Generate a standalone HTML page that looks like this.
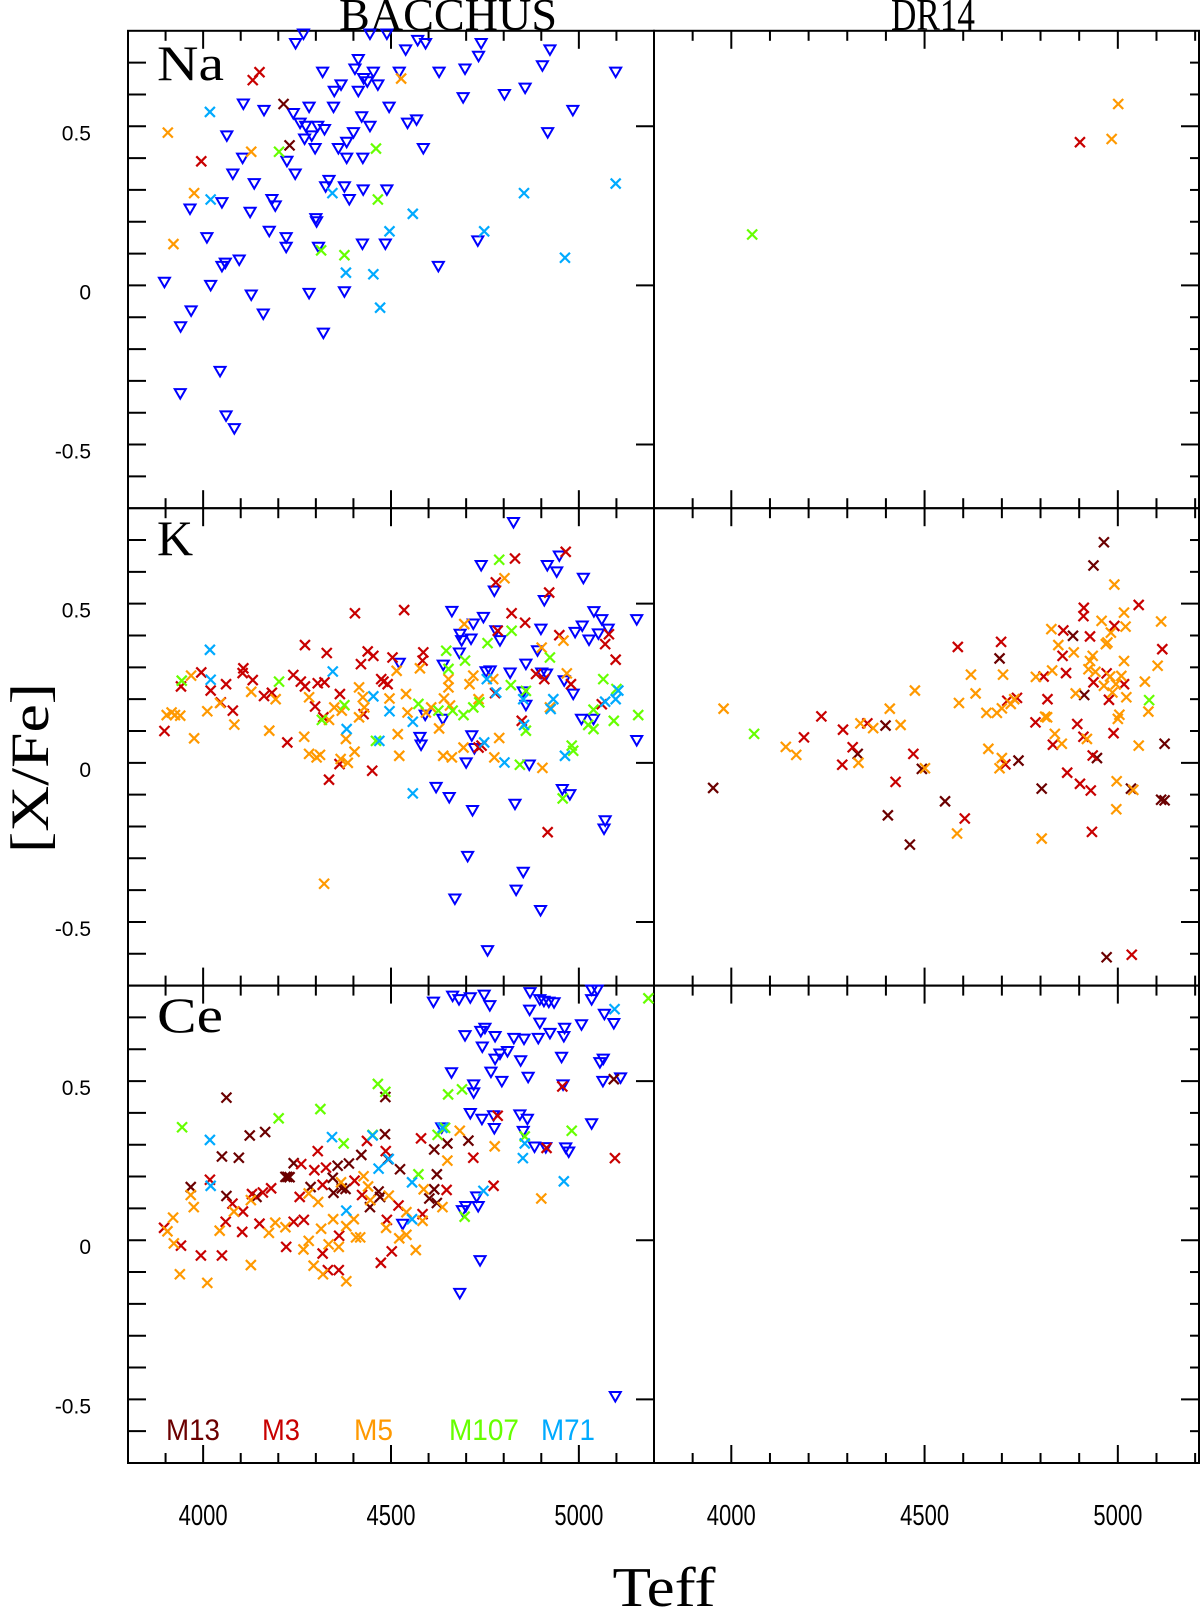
<!DOCTYPE html>
<html><head><meta charset="utf-8"><style>
html,body{margin:0;padding:0;background:#fff;}
svg{display:block;}
</style></head><body>
<svg id="chart" width="1200" height="1610" viewBox="0 0 1200 1610" xmlns="http://www.w3.org/2000/svg">
<text x="448" y="30" font-family="Liberation Serif, serif" font-size="46" text-anchor="middle" textLength="218" lengthAdjust="spacingAndGlyphs">BACCHUS</text>
<text x="933" y="30" font-family="Liberation Serif, serif" font-size="46" text-anchor="middle" textLength="84" lengthAdjust="spacingAndGlyphs">DR14</text>
<text x="0" y="0" transform="translate(48,768) rotate(-90)" font-family="Liberation Serif, serif" font-size="54" text-anchor="middle" textLength="170" lengthAdjust="spacingAndGlyphs">[X/Fe]</text>
<text x="664" y="1606" font-family="Liberation Serif, serif" font-size="56" text-anchor="middle" textLength="103" lengthAdjust="spacingAndGlyphs">Teff</text>
<text x="157" y="80" font-family="Liberation Serif, serif" font-size="50" textLength="67" lengthAdjust="spacingAndGlyphs">Na</text>
<text x="157" y="555" font-family="Liberation Serif, serif" font-size="50">K</text>
<text x="157" y="1032" font-family="Liberation Serif, serif" font-size="50" textLength="66" lengthAdjust="spacingAndGlyphs">Ce</text>
<g font-family="Liberation Sans, sans-serif" font-size="30">
<text x="166" y="1440" fill="#6b0000" textLength="54" lengthAdjust="spacingAndGlyphs">M13</text>
<text x="262" y="1440" fill="#c80000" textLength="38" lengthAdjust="spacingAndGlyphs">M3</text>
<text x="354" y="1440" fill="#ff9900" textLength="39" lengthAdjust="spacingAndGlyphs">M5</text>
<text x="449" y="1440" fill="#66ff00" textLength="70" lengthAdjust="spacingAndGlyphs">M107</text>
<text x="541" y="1440" fill="#00aaff" textLength="54" lengthAdjust="spacingAndGlyphs">M71</text>
</g>
</svg>
<script>
// ---- data (Teff, [X/Fe]) ----
const na_lim = [[4267,0.79],[4246,0.76],[4444,0.79],[4489,0.79],[4539,0.74],[4571,0.77],[4592,0.76],[4740,0.76],[4733,0.72],[4923,0.74],[4413,0.71],[4318,0.67],[4404,0.68],[4427,0.65],[4453,0.67],[4437,0.64],[4465,0.63],[4367,0.63],[4349,0.61],[4413,0.61],[4522,0.67],[4628,0.67],[4697,0.68],[4903,0.69],[5098,0.67],[4692,0.59],[4802,0.60],[4857,0.62],[4984,0.55],[4107,0.57],[4162,0.55],[4240,0.54],[4282,0.56],[4347,0.56],[4495,0.56],[4422,0.53],[4258,0.51],[4273,0.50],[4305,0.50],[4323,0.49],[4444,0.50],[4544,0.51],[4568,0.52],[4063,0.47],[4289,0.47],[4400,0.48],[4270,0.46],[4298,0.43],[4382,0.45],[4360,0.43],[4586,0.43],[4917,0.48],[4105,0.40],[4223,0.39],[4382,0.40],[4425,0.40],[4079,0.35],[4245,0.35],[4136,0.32],[4335,0.33],[4326,0.31],[4376,0.31],[4426,0.30],[4489,0.30],[4389,0.27],[4050,0.26],[3965,0.24],[4183,0.27],[4192,0.25],[4125,0.23],[4300,0.21],[4302,0.20],[4176,0.17],[4221,0.15],[4221,0.12],[4307,0.12],[4424,0.13],[4485,0.13],[4731,0.14],[4010,0.15],[4096,0.08],[4059,0.07],[4050,0.06],[4626,0.06],[3897,0.01],[4020,0.00],[4128,-0.03],[4282,-0.025],[4376,-0.02],[3968,-0.08],[4160,-0.09],[3940,-0.13],[4320,-0.15],[4045,-0.27],[3939,-0.34],[4061,-0.41],[4083,-0.45]];
const na_m13 = [[4214,0.57],[4230,0.44]];
const na_m3 = [[4132,0.645],[4150,0.67],[3995,0.39]];
const na_m5 = [[4527,0.65],[3906,0.48],[4128,0.42],[3976,0.29],[3921,0.13]];
const na_m107 = [[4202,0.42],[4460,0.43],[4465,0.27],[4314,0.11],[4376,0.095]];
const na_m71 = [[4018,0.545],[4020,0.27],[4344,0.29],[4558,0.225],[4496,0.17],[4748,0.17],[4854,0.29],[5098,0.32],[4380,0.04],[4453,0.035],[4963,0.087],[4471,-0.07]];
const naDr_m3 = [[4902,0.45]];
const naDr_m5 = [[5001,0.57],[4984,0.46]];
const naDr_m107 = [[4054,0.16]];

const k_lim = [[4826,0.755],[4740,0.62],[4916,0.62],[4948,0.65],[4941,0.60],[5012,0.58],[4775,0.54],[4908,0.51],[4662,0.476],[4746,0.457],[4719,0.436],[5040,0.475],[5061,0.45],[5078,0.42],[5154,0.45],[4899,0.42],[5009,0.43],[4990,0.41],[5027,0.386],[5052,0.405],[4779,0.415],[4790,0.384],[4684,0.404],[4688,0.384],[4713,0.389],[4682,0.345],[4890,0.352],[4859,0.31],[4522,0.313],[4639,0.307],[4753,0.286],[4764,0.289],[4817,0.282],[4901,0.282],[4914,0.279],[4961,0.258],[4985,0.216],[4852,0.223],[4859,0.181],[4591,0.15],[4638,0.137],[5007,0.137],[5039,0.137],[5154,0.07],[4577,0.08],[4580,0.056],[4715,0.085],[4722,0.045],[4700,0.0],[4868,-0.007],[4620,-0.077],[4655,-0.109],[4717,-0.15],[4830,-0.13],[4956,-0.084],[4976,-0.1],[5070,-0.182],[5067,-0.208],[4704,-0.294],[4852,-0.344],[4833,-0.40],[4670,-0.428],[4898,-0.464],[4757,-0.59]];
const k_m3 = [[3897,0.10],[3941,0.24],[3995,0.284],[4020,0.227],[4061,0.247],[4079,0.164],[4047,0.19],[4107,0.297],[4105,0.282],[4132,0.26],[4162,0.21],[4183,0.22],[4224,0.064],[4240,0.276],[4260,0.255],[4271,0.24],[4271,0.37],[4298,0.177],[4305,0.25],[4323,0.253],[4329,0.345],[4320,0.143],[4335,-0.053],[4364,0.216],[4363,-0.004],[4404,0.47],[4420,0.31],[4427,0.153],[4438,0.35],[4453,0.336],[4450,-0.025],[4474,0.263],[4480,0.255],[4491,0.247],[4504,0.331],[4535,0.48],[4586,0.347],[4584,0.321],[4733,0.048],[4741,0.054],[4779,0.567],[4830,0.642],[4821,0.47],[4857,0.44],[4784,0.415],[4886,0.279],[4908,0.263],[4921,0.535],[4948,0.401],[4965,0.663],[4979,0.247],[4848,0.132],[4917,-0.218],[5070,0.373],[5080,0.404],[5061,0.184],[5098,0.324],[4777,0.219]];
const k_m5 = [[3903,0.15],[3916,0.158],[3925,0.15],[3939,0.148],[3968,0.274],[3976,0.077],[4011,0.162],[4045,0.188],[4083,0.12],[4128,0.223],[4176,0.101],[4193,0.2],[4269,0.082],[4282,0.206],[4282,0.028],[4302,0.017],[4311,0.025],[4322,-0.38],[4335,0.135],[4349,0.174],[4369,0.164],[4366,0.012],[4380,0.075],[4385,0.0],[4403,0.035],[4415,0.237],[4415,0.143],[4425,0.206],[4429,0.174],[4496,0.202],[4515,0.289],[4518,0.09],[4522,0.022],[4540,0.216],[4544,0.158],[4577,0.297],[4593,0.158],[4607,0.174],[4628,0.108],[4639,0.022],[4641,0.202],[4653,0.263],[4653,0.237],[4662,0.017],[4657,0.18],[4693,0.048],[4695,0.436],[4709,0.247],[4719,0.274],[4733,0.2],[4772,0.263],[4775,0.017],[4788,0.078],[4802,0.58],[4901,0.362],[4903,-0.016],[4923,0.174],[4959,0.384],[4968,0.281]];
const k_m107 = [[3943,0.258],[4202,0.255],[4316,0.135],[4376,0.181],[4460,0.069],[4573,0.185],[4626,0.164],[4647,0.352],[4653,0.295],[4664,0.164],[4693,0.15],[4697,0.321],[4719,0.174],[4735,0.19],[4757,0.376],[4788,0.638],[4821,0.415],[4819,0.244],[4859,0.226],[4859,0.101],[4843,-0.006],[4923,0.331],[4957,-0.112],[4981,0.054],[4985,0.038],[5025,0.119],[5039,0.167],[5039,0.106],[5065,0.263],[5093,0.132],[5100,0.232],[5158,0.15]];
const k_m71 = [[4018,0.355],[4020,0.261],[4345,0.287],[4382,0.106],[4453,0.209],[4469,0.069],[4496,0.162],[4558,0.129],[4558,-0.096],[4748,0.064],[4755,0.263],[4780,0.221],[4802,0.001],[4852,0.2],[4854,0.119],[4932,0.2],[4925,0.169],[4963,0.022],[5070,0.192],[5098,0.2],[5105,0.227]];
const kDr_m13 = [[3953,-0.079],[4327,0.028],[4399,0.117],[4405,-0.165],[4462,-0.257],[4493,-0.019],[4553,-0.121],[4694,0.328],[4743,0.007],[4803,-0.081],[4884,0.399],[4913,0.213],[4937,0.62],[4946,0.015],[4964,0.693],[4971,-0.611],[5034,-0.081],[5112,-0.116],[5121,-0.118],[5121,0.06]];
const kDr_m3 = [[4233,0.146],[4188,0.08],[4289,0.104],[4314,0.049],[4287,-0.006],[4352,0.124],[4425,-0.06],[4471,0.028],[4586,0.364],[4604,-0.175],[4698,0.38],[4709,-0.005],[4714,0.195],[4739,0.204],[4787,0.127],[4808,0.271],[4818,0.2],[4832,0.057],[4859,0.416],[4857,0.336],[4866,0.282],[4869,-0.031],[4895,0.122],[4902,-0.066],[4911,0.082],[4912,0.487],[4911,0.461],[4928,0.397],[4930,-0.087],[4933,-0.217],[4937,0.253],[4935,0.023],[4971,0.281],[4977,0.198],[4989,0.093],[4991,0.43],[5016,0.247],[5036,-0.603],[5054,0.496],[5115,0.357]];
const kDr_m5 = [[3980,0.17],[4141,0.05],[4168,0.025],[4329,0.0],[4334,0.124],[4367,0.109],[4410,0.17],[4438,0.119],[4475,0.227],[4501,-0.017],[4589,0.188],[4620,0.277],[4632,0.218],[4584,-0.222],[4665,0.044],[4660,0.157],[4687,0.157],[4700,0.171],[4723,0.185],[4703,0.277],[4694,-0.017],[4700,0.015],[4732,0.2],[4788,0.27],[4828,0.42],[4846,0.37],[4830,0.29],[4812,0.145],[4817,0.143],[4837,0.091],[4855,0.06],[4803,-0.238],[4886,0.347],[4891,0.218],[4920,0.075],[4924,0.294],[4928,0.32],[4935,0.336],[4942,0.286],[4958,0.446],[4964,0.242],[4969,0.373],[4973,0.378],[4980,0.271],[4982,0.409],[4986,0.221],[4991,0.56],[4995,0.247],[5004,0.151],[5000,0.138],[5009,0.273],[5016,0.472],[5020,0.428],[5016,0.32],[5022,0.206],[4997,-0.058],[4996,-0.146],[5040,-0.085],[5054,0.054],[5070,0.255],[5079,0.161],[5103,0.305],[5112,0.444]];
const kDr_m107 = [[4059,0.091],[5081,0.197]];

const ce_lim = [[4613,0.748],[4664,0.767],[4681,0.756],[4711,0.762],[4748,0.77],[4763,0.737],[4870,0.778],[4896,0.756],[4907,0.751],[4920,0.748],[4934,0.746],[5034,0.786],[5034,0.756],[5049,0.786],[4869,0.723],[5068,0.71],[5093,0.681],[5007,0.677],[4896,0.682],[4962,0.666],[4960,0.64],[4923,0.65],[4750,0.666],[4739,0.656],[4697,0.643],[4777,0.64],[4827,0.634],[4854,0.632],[4892,0.634],[4743,0.607],[4810,0.593],[4790,0.585],[4777,0.569],[4845,0.564],[4954,0.575],[5065,0.569],[5056,0.558],[4661,0.526],[4766,0.528],[4795,0.499],[4865,0.512],[5064,0.499],[5111,0.51],[4720,0.488],[4720,0.463],[4958,0.488],[4711,0.398],[4742,0.38],[4773,0.391],[4775,0.351],[4843,0.394],[4863,0.38],[4852,0.342],[5034,0.366],[4635,0.353],[4882,0.293],[4912,0.291],[4965,0.29],[4973,0.277],[4728,0.136],[4699,0.106],[4690,0.093],[4732,0.106],[4531,0.05],[4737,-0.064],[4683,-0.167],[5097,-0.491]];
const ce_m13 = [[4062,0.448],[3967,0.167],[4050,0.263],[4095,0.259],[4124,0.329],[4165,0.34],[4062,0.139],[4142,0.136],[4219,0.199],[4224,0.199],[4230,0.198],[4241,0.242],[4286,0.167],[4345,0.196],[4358,0.234],[4347,0.149],[4369,0.163],[4379,0.161],[4388,0.241],[4421,0.268],[4444,0.104],[4471,0.136],[4467,0.153],[4484,0.333],[4485,0.45],[4492,0.255],[4524,0.223],[4615,0.285],[4622,0.207],[4615,0.16],[4602,0.131],[4622,0.117],[4650,0.304],[4706,0.313],[5093,0.506]];
const ce_m3 = [[3896,0.039],[3941,-0.017],[3994,-0.048],[4018,0.19],[4050,-0.048],[4060,0.058],[4078,0.115],[4104,0.026],[4106,0.09],[4130,0.145],[4150,0.052],[4159,0.15],[4181,0.163],[4221,-0.021],[4241,0.058],[4257,0.136],[4268,0.064],[4261,0.239],[4296,0.22],[4305,0.28],[4318,0.174],[4318,-0.042],[4327,0.228],[4332,-0.094],[4361,-0.094],[4362,0.014],[4403,0.187],[4423,0.142],[4436,0.312],[4473,-0.071],[4489,0.064],[4486,0.28],[4502,-0.035],[4520,0.109],[4580,0.32],[4584,0.082],[4648,0.158],[4719,0.259],[4773,0.171],[4784,0.391],[4914,0.29],[4956,0.483],[5096,0.258]];
const ce_m5 = [[3905,0.028],[3920,0.071],[3922,-0.01],[3938,-0.107],[3967,0.142],[3975,0.104],[4011,-0.134],[4044,0.03],[4082,0.09],[4127,-0.078],[4127,0.126],[4175,0.023],[4192,0.055],[4219,0.041],[4267,-0.029],[4281,-0.002],[4281,0.147],[4294,-0.08],[4306,0.12],[4314,0.036],[4319,-0.107],[4334,-0.013],[4346,0.066],[4361,-0.021],[4367,0.182],[4381,-0.129],[4381,0.044],[4401,0.066],[4407,0.009],[4418,0.009],[4427,0.201],[4439,0.169],[4445,0.126],[4487,0.039],[4494,0.14],[4522,0.006],[4541,0.017],[4541,0.088],[4566,-0.031],[4584,0.061],[4587,0.16],[4637,0.104],[4650,0.25],[4683,0.344],[4776,0.295],[4900,0.131]];
const ce_m107 = [[3944,0.355],[4201,0.383],[4312,0.412],[4374,0.304],[4465,0.491],[4485,0.466],[4451,0.331],[4573,0.207],[4624,0.331],[4644,0.353],[4652,0.458],[4689,0.474],[4696,0.074],[4856,0.326],[4981,0.344],[5185,0.76]];
const ce_m71 = [[4018,0.315],[4020,0.171],[4343,0.324],[4381,0.093],[4451,0.329],[4467,0.225],[4494,0.255],[4556,0.182],[4556,0.066],[4637,0.353],[4746,0.155],[4851,0.258],[4856,0.304],[4960,0.185],[5095,0.726]];

const yTickValues = [0.5, 0, -0.5];
const yTickLabels = ["0.5", "0", "-0.5"];
const xTickValues = [4000, 4500, 5000];
const xTickLabels = ["4000", "4500", "5000"];

// ---- geometry ----
const NS = "http://www.w3.org/2000/svg";
const svg = document.getElementById('chart');
const cols = [{x0:128,x1:654,t0:3800,t1:5200,name:'bacchus'},{x0:654,x1:1199,t0:3800,t1:5210,name:'dr14'}];
const rowTops = [30.8, 508.2, 985.6];
const rowNames = ['na','k','ce'];
const PH = 477.4, V0 = -0.7, V1 = 0.8;
const COL = {m13:'#6b0000', m3:'#c80000', m5:'#ff9900', m107:'#66ff00', m71:'#00aaff', lim:'#0000ff'};
function xs(c,t){return c.x0 + (t - c.t0) / (c.t1 - c.t0) * (c.x1 - c.x0);}
function ys(r,v){return rowTops[r] + (V1 - v) / (V1 - V0) * PH;}
function mk(tag, attrs){const e=document.createElementNS(NS,tag);for(const k in attrs)e.setAttribute(k,attrs[k]);return e;}

const axesG = mk('g',{});


svg.appendChild(axesG);

for (let ci=0; ci<2; ci++){
  const c = cols[ci];
  for (let r=0; r<3; r++){
    const fr = mk('rect',{x:c.x0,y:rowTops[r],width:c.x1-c.x0,height:PH,fill:'none',stroke:'#000','stroke-width':2});
    
    
    axesG.appendChild(fr);
    // x ticks
    for (let t=3800; t<=c.t1; t+=100){
      if (t<=c.t0) continue;
      const x = xs(c,t);
      const L = (t%500===0)?18:10;
      const tk1 = mk('line',{x1:x,x2:x,y1:rowTops[r],y2:rowTops[r]+L,stroke:'#000','stroke-width':2});
      
      
      axesG.appendChild(tk1);
      const tk2 = mk('line',{x1:x,x2:x,y1:rowTops[r]+PH,y2:rowTops[r]+PH-L,stroke:'#000','stroke-width':2});
      
      
      axesG.appendChild(tk2);
    }
    // y ticks
    for (let i=-6;i<=7;i++){
      const v=i/10, y=ys(r,v), major=(i%5===0);
      if (ci===0){
        const t1 = mk('line',{x1:c.x0,x2:c.x0+18,y1:y,y2:y,stroke:'#000','stroke-width':2});
        
        
        axesG.appendChild(t1);
        if (major){
          const t2 = mk('line',{x1:c.x1,x2:c.x1-18,y1:y,y2:y,stroke:'#000','stroke-width':2});
          
          
          axesG.appendChild(t2);
        }
      } else {
        const t3 = mk('line',{x1:c.x1,x2:c.x1-(major?18:9),y1:y,y2:y,stroke:'#000','stroke-width':2});
        
        
        axesG.appendChild(t3);
      }
    }
  }
  // x tick labels
  for (let i=0;i<xTickValues.length;i++){
    const tl = mk('text',{x:xs(c,xTickValues[i]),y:1525,'font-family':'Liberation Sans, sans-serif','font-size':29,'text-anchor':'middle',textLength:49,lengthAdjust:'spacingAndGlyphs'});
    
    
    tl.textContent = xTickLabels[i];
    axesG.appendChild(tl);
  }
}
// y tick labels
for (let r=0;r<3;r++){
  for (let i=0;i<yTickValues.length;i++){
    const tl = mk('text',{x:91,y:ys(r,yTickValues[i])+14,'font-family':'Liberation Sans, sans-serif','font-size':21,'text-anchor':'end'});
    
    
    tl.textContent = yTickLabels[i];
    axesG.appendChild(tl);
  }
}

function drawCross(g,c,r,pt,color){
  const x=xs(c,pt[0]), y=ys(r,pt[1]), s=5;
  const p = mk('path',{d:`M${x-s},${y-s}L${x+s},${y+s}M${x-s},${y+s}L${x+s},${y-s}`,stroke:color,'stroke-width':2.2,fill:'none'});
  
  
  g.appendChild(p);
}
function drawTri(g,c,r,pt){
  const x=xs(c,pt[0]), y=ys(r,pt[1]);
  const p = mk('path',{d:`M${x-5.5},${y-4.5}L${x+5.5},${y-4.5}L${x},${y+5}Z`,stroke:COL.lim,'stroke-width':2,fill:'none','stroke-linejoin':'miter'});
  
  
  g.appendChild(p);
}
function series(name, ci, r, arr, key){
  const g = mk('g',{});
  
  
  svg.appendChild(g);
  arr.forEach(pt => key==='lim' ? drawTri(g,cols[ci],r,pt) : drawCross(g,cols[ci],r,pt,COL[key]));
}
series('na-upper-limits',0,0,na_lim,'lim');
series('na-m13',0,0,na_m13,'m13');
series('na-m3',0,0,na_m3,'m3');
series('na-m5',0,0,na_m5,'m5');
series('na-m107',0,0,na_m107,'m107');
series('na-m71',0,0,na_m71,'m71');
series('na-dr14-m3',1,0,naDr_m3,'m3');
series('na-dr14-m5',1,0,naDr_m5,'m5');
series('na-dr14-m107',1,0,naDr_m107,'m107');
series('k-upper-limits',0,1,k_lim,'lim');
series('k-m3',0,1,k_m3,'m3');
series('k-m5',0,1,k_m5,'m5');
series('k-m107',0,1,k_m107,'m107');
series('k-m71',0,1,k_m71,'m71');
series('k-dr14-m13',1,1,kDr_m13,'m13');
series('k-dr14-m3',1,1,kDr_m3,'m3');
series('k-dr14-m5',1,1,kDr_m5,'m5');
series('k-dr14-m107',1,1,kDr_m107,'m107');
series('ce-upper-limits',0,2,ce_lim,'lim');
series('ce-m13',0,2,ce_m13,'m13');
series('ce-m3',0,2,ce_m3,'m3');
series('ce-m5',0,2,ce_m5,'m5');
series('ce-m107',0,2,ce_m107,'m107');
series('ce-m71',0,2,ce_m71,'m71');
</script>
</body></html>
